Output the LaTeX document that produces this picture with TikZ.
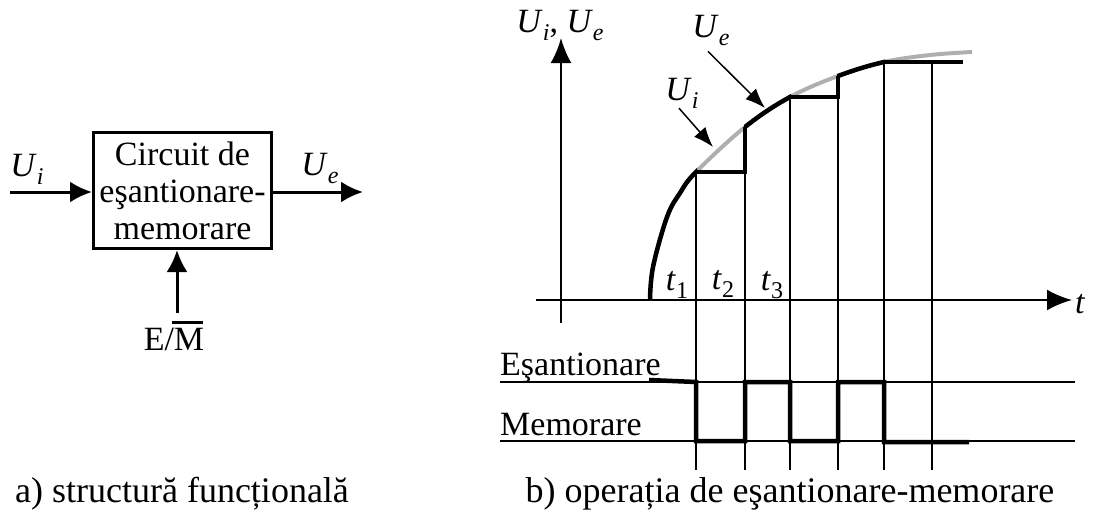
\documentclass[tikz,border=0pt]{standalone}
\usepackage{fontspec}
\setmainfont{Liberation Serif}
\usetikzlibrary{arrows.meta}
\definecolor{inputgrey}{RGB}{175,175,175}
\newcommand{\Usb}[2]{#1\raisebox{-8pt}{\fontsize{24}{24}\selectfont #2}}
\begin{document}
\begin{tikzpicture}[x=1pt,y=-1pt,
  lbl/.style={inner sep=0pt, font=\fontsize{34}{37}\selectfont},
  capt/.style={inner sep=0pt, font=\fontsize{36}{40}\selectfont},
  blockarrow/.style={line width=3pt, -{Latex[length=22pt,width=21pt]}},
  axisarrow/.style={line width=2.5pt, -{Latex[length=25pt,width=21pt]}},
  thinarrow/.style={line width=1.5pt, -{Latex[length=20pt,width=15pt]}},
  gridline/.style={line width=1.5pt},
  sig/.style={line width=4.5pt, line join=miter},
  inputsig/.style={line width=4pt, color=inputgrey},
]
\useasboundingbox (0,0) rectangle (1093,517);

% ---------- a) block diagram ----------
\node[draw, line width=3pt, minimum width=178pt, minimum height=116pt,
      inner sep=0pt, align=center, font=\fontsize{34}{37}\selectfont]
      (blk) at (182.5,190.5) {Circuit de\\eşantionare-\\memorare};
\coordinate (in) at (10,192);
\coordinate (out) at (363,192);
\draw[blockarrow] (in) -- (in -| blk.west);
\draw[blockarrow] (in -| blk.east) -- (out);
\node[lbl, anchor=base] (uin) at (27,176) {\Usb{\textit{U}}{\textit{i}}};
\node[lbl, anchor=base] (uout) at (320,175) {\Usb{\textit{U}}{\textit{e}}};
\node[lbl, anchor=base] (em) at (174,350)
  {E/\leavevmode\rlap{\hspace{-2pt}\raisebox{26pt}{\rule{31pt}{2.6pt}}}M};
\coordinate (emtop) at (177,313);
\draw[blockarrow] (emtop) -- (emtop |- blk.south);
\node[capt, anchor=base] (capa) at (182,502) {a) structură funcțională};

% ---------- b) graph ----------
\coordinate (yb) at (561,323);
\coordinate (yt) at (561,38);
\coordinate (xl) at (536,300);
\coordinate (xr) at (1072,300);
\draw[axisarrow] (yb) -- (yt);
\draw[axisarrow] (xl) -- (xr);
\node[lbl, anchor=base west] (tlab) at (1075,313) {\textit{t}};
\node[lbl, anchor=base] (ylab) at (560,32)
  {\Usb{\textit{U}}{\textit{i}}, \Usb{\textit{U}}{\textit{e}}};

% curve sample points
\coordinate (c0) at (650,300);
\coordinate (c1) at (696,172);
\coordinate (c2) at (745,127);
\coordinate (c3) at (790,97);
\coordinate (c4) at (838,76);
\coordinate (c5) at (884,62);
\coordinate (c6) at (932,62);
\coordinate (cend) at (963,62);

% vertical sampling lines
\foreach \i/\x in {1/696,2/745,3/790,4/838,5/884,6/932} {
  \coordinate (bot\i) at (\x,470);
  \draw[gridline] (c\i) -- (bot\i);
}

% input signal (grey)
\draw[inputsig] plot[smooth, tension=0.6] coordinates
  {(650,300) (653,267) (667,217) (680,193) (696,172) (745,127) (790,97) (838,76) (884,62) (930,55) (972,52)};

% output signal (black): tracking parts
\begin{scope}
  \clip (640,310) rectangle (697,150) (744,150) rectangle (791,80) (837,80) rectangle (885,50);
  \draw[sig] plot[smooth, tension=0.6] coordinates
    {(650,300) (653,267) (667,217) (680,193) (696,172) (745,127) (790,97) (838,76) (884,62) (930,55) (972,52)};
\end{scope}
% holding parts
\draw[sig] (c1) -- (c2 |- c1) -- (c2);
\draw[sig] (c3) -- (c4 |- c3) -- (c4);
\draw[sig] (c5) -- (cend);

% labels with pointer arrows
\node[lbl, anchor=base] (uil) at (682,100) {\Usb{\textit{U}}{\textit{i}}};
\node[lbl, anchor=base] (uel) at (711,37) {\Usb{\textit{U}}{\textit{e}}};
\coordinate (uitip) at (713,147);
\coordinate (uetip) at (765,108);
\draw[thinarrow] ([xshift=-3pt]uil.south) -- (uitip);
\draw[thinarrow] ([xshift=-3pt,yshift=-6pt]uel.south) -- (uetip);

% t labels
\node[lbl, anchor=base] (t1) at (677,290) {\Usb{\textit{t}}{1}};
\node[lbl, anchor=base] (t2) at (723,289) {\Usb{\textit{t}}{2}};
\node[lbl, anchor=base] (t3) at (772,290) {\Usb{\textit{t}}{3}};

% control signal
\coordinate (hl) at (500,382);
\coordinate (hr) at (1075,382);
\coordinate (ll) at (500,441);
\coordinate (lr) at (1075,441);
\draw[gridline] (hl) -- (hr);
\draw[gridline] (ll) -- (lr);
\node[lbl, anchor=base west] (esl) at (500,375) {Eşantionare};
\node[lbl, anchor=base west] (mel) at (500,435) {Memorare};
\draw[sig] (649,380) -- (696,382) -- (696,441) -- (745,441) -- (745,382)
  -- (790,382) -- (790,441) -- (838,441) -- (838,382) -- (884,382)
  -- (884,442) -- (969,442);

\node[capt, anchor=base] (capb) at (790,502) {b) operația de eşantionare-memorare};
\end{tikzpicture}
\end{document}
